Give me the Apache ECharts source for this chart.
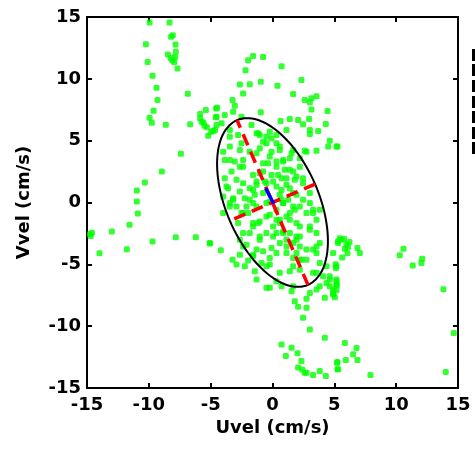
<!DOCTYPE html>
<html><head><meta charset="utf-8">
<script src="https://cdn.jsdelivr.net/npm/echarts@6/dist/echarts.min.js"></script>
<style>html,body{margin:0;padding:0;background:#fff}#c{width:475px;height:450px}</style>
</head><body><div id="c"></div><script>
// axis range and ticks
const axisMin = -15, axisMax = 15, tickStep = 5;
const xName = 'Uvel (cm/s)', yName = 'Vvel (cm/s)';

// variance ellipse parameters (cm/s, degrees)
const ellipseCenter = [0, 0];
const ellipseMajor = 7.25;
const ellipseMinor = 3.75;
const ellipseAngleDeg = 113.3;

// mean vector (blue line)
const meanVector = [[0.1, -0.1], [-0.55, 1.15]];

// scatter points, grouped by region
const nwTrack = [[-9.94,14.55],[-8.33,14.55],[-8.06,13.52],[-8.2,13.4],[-10.24,12.8],[-7.84,12.77],[-7.82,12.18],[-8.46,11.97],[-8.22,11.69],[-7.87,11.77],[-7.95,11.37],[-8.1,11.5],[-10.1,11.37],[-7.68,10.84],[-9.7,10.24],[-9.38,9.27],[-6.85,8.79],[-9.3,8.28],[-9.62,7.42],[-9.94,6.85],[-9.76,6.45],[-8.63,6.29],[-6.66,6.32],[-5.85,7.15],[-5.39,7.48],[-5.72,6.53],[-5.58,6.45],[-5.31,6.08],[-4.96,5.73],[-4.56,7.61],[-4.58,6.89],[-4.64,5.86],[-5.85,6.8],[-5.5,6.2],[-7.41,3.95],[-8.95,2.5],[-10.32,1.61],[-10.97,0.97],[-10.97,0.08]];
const westTrack = [[-10.89,-0.89],[-11.56,-1.8],[-14.75,-2.55],[-14.6,-2.45],[-14.7,-2.7],[-12.99,-2.34],[-13.99,-4.11],[-11.78,-3.79],[-9.7,-3.15],[-7.82,-2.82],[-6.2,-2.82],[-5.07,-3.31]];
const eastTrack = [[5.25,4.52],[5.58,-3.01],[5.3,-3.27],[5.98,-3.41],[6.22,-3.19],[5.85,-3.73],[6.87,-3.68],[7.06,-4.08],[6.06,-4.11],[5.63,-4.44],[5.44,-2.9],[5.79,-2.95],[6.1,-3.6],[10.59,-3.73],[10.29,-4.27],[11.34,-5.1],[12.1,-4.54],[12.04,-4.89],[5.12,-5.29],[5.1,-5.0],[5.17,-6.37],[5.2,-6.7],[5.17,-7.1],[5.04,-7.66],[13.82,-7.02],[14.66,-10.56],[5.85,-11.37],[6.79,-11.77],[6.52,-12.28],[5.25,-12.9],[5.93,-12.74],[6.87,-12.74],[5.25,-13.49],[7.92,-13.95],[14.01,-13.71]];
const southTrack = [[-5.07,-3.27],[-4.18,-3.87],[-3.23,-4.62],[-2.91,-5.02],[-2.24,-5.16],[-2.64,-4.22],[-1.97,-4.68],[-1.29,-6.23],[-1.43,-5.56],[-0.89,-4.89],[-0.22,-5.02],[-0.49,-6.9],[-0.22,-6.9],[0.32,-6.37],[0.73,-6.77],[1.4,-5.56],[1.54,-7.18],[1.8,-7.98],[2.07,-8.44],[2.75,-7.79],[2.75,-8.52],[3.02,-7.31],[3.56,-7.04],[4.23,-7.71],[4.9,-7.04],[5.17,-6.64],[4.63,-5.97],[5.17,-6.23],[4.37,-6.5],[2.47,-9.32],[3.02,-10.27],[4.23,-10.94],[0.73,-11.48],[1.54,-11.74],[1.08,-12.42],[2.02,-12.2],[2.34,-12.82],[2.07,-13.35],[2.61,-13.76],[3.28,-13.95],[3.82,-13.63],[4.31,-14.03],[5.22,-12.95],[5.3,-13.49],[2.75,-13.76],[2.4,-13.5]];
const northCloud = [[-1.57,11.85],[-0.76,11.77],[-1.97,11.5],[-2.18,10.7],[0.73,11.02],[-0.95,9.76],[-1.84,9.57],[-2.64,9.55],[0.4,9.44],[2.34,9.9],[-2.38,8.82],[1.67,8.77],[-3.23,8.28],[-3.05,7.82],[-3.18,7.34],[-4.48,7.66],[-3.86,7.07],[-4.53,6.94],[-4.12,6.4],[-4.8,5.78],[-4.53,6.27],[-3.45,5.86],[-5.2,5.4],[-2.51,6.94],[-0.95,7.29],[2.61,8.28],[3.15,8.42],[3.56,8.6],[3.02,8.1],[4.45,7.4],[3.15,7.53],[1.4,6.75],[0.65,6.59],[2.07,6.67],[2.96,6.75],[2.47,6.32],[4.31,6.35],[3.02,5.86],[3.69,5.78],[3.02,5.54],[4.63,5.0],[4.5,4.52],[5.17,4.52],[3.56,4.19],[2.61,4.19]];
const coreUpper = [[-1.7,6.27],[-3.45,5.32],[-2.78,5.46],[-1.29,5.6],[-1.03,5.46],[-0.49,5.32],[-0.76,4.92],[-0.08,5.19],[0.32,4.79],[0.59,4.25],[-0.08,4.11],[-1.03,4.39],[-1.84,4.11],[-2.51,4.79],[-3.45,4.52],[-3.99,4.11],[-3.86,3.44],[-3.05,3.31],[-2.38,3.44],[-2.64,2.9],[-3.31,2.5],[-3.86,1.97],[-2.38,1.56],[-1.57,2.23],[-0.76,2.5],[-0.36,3.18],[0.32,3.31],[0.86,3.31],[1.4,3.58],[1.54,3.98],[0.99,2.64],[1.67,2.5],[2.21,2.9],[2.47,1.97],[1.8,1.83],[1.13,1.97],[0.45,2.23],[0.05,1.69],[-0.62,1.69],[-1.29,1.43],[-1.84,1.16],[-2.64,0.89],[-3.59,1.16],[-3.99,0.48],[-3.18,0.35],[-2.24,0.35],[-1.43,0.62],[0.73,1.02],[1.4,1.16],[1.94,0.62],[1.26,0.22],[0.73,0.22],[2.75,4.11],[2.21,3.58],[-0.22,0.08],
[-1.16,5.6],[-0.22,5.73],[0.32,5.46],[1.13,5.86],[-0.49,4.79],[0.59,4.52],[1.67,4.25],[-1.29,3.98],[-0.22,3.71],[0.86,3.44],[-0.76,3.18],[0.32,2.9],[1.4,2.64],[-1.03,2.37],[-0.08,2.23],[0.73,1.97],[1.94,2.1],[-1.29,1.69],[-0.49,1.56],[0.32,1.29],[1.13,1.43],[2.47,1.56],[-1.57,1.02],[-0.76,0.76],[0.59,0.62],[1.67,0.76],[-1.84,0.22],[0.86,-0.05],[-1.29,-0.32],[0.32,-0.59],[1.4,-0.85],[-0.49,-1.13],[0.59,-1.4],[1.94,-1.66],[-2.38,-0.85],[-3.18,0.22],[-2.91,1.83],[-2.38,2.9],[-2.64,4.25],[-3.45,3.44],[-3.72,1.29],[2.47,0.22],[3.02,0.76],[2.21,-0.32],[3.28,-0.59]];
const coreLower = [[3.02,-1.94],[3.56,-2.47],[3.82,-3.27],[3.28,-3.81],[2.75,-4.62],[3.82,-0.59],[5.3,-3.14],[4.9,-4.08],[5.17,-5.16],[4.37,-5.16],[4.09,-5.97],[4.63,-6.77],[4.9,-7.44],
[-3.45,-0.32],[-2.91,-0.32],[-2.51,-0.85],[-1.97,-0.85],[-1.57,-1.66],[-1.03,-1.53],[-0.49,-2.47],[0.05,-1.94],[0.32,-1.4],[0.59,-3.27],[-0.08,-3.68],[-0.76,-3.95],[-1.57,-4.22],[-0.22,-4.48],[0.32,-4.08],[1.4,-2.47],[1.67,-3.27],[1.94,-2.74],[2.21,-3.55],[2.34,-4.62],[1.94,-4.08],[2.75,-0.85],[3.28,-0.85],[3.56,-1.4],[1.13,-1.13],[1.8,-0.59],[-2.1,-3.41],[-1.03,-2.74],[-2.38,-2.47],[-2.78,-1.66],[-3.99,-0.85],
[-3.45,-0.05],[-1.57,-0.05],[-0.49,-0.05],[0.86,-0.05],[1.67,-0.32],[3.02,-0.05],[-2.1,-0.32],[-0.22,-0.99],[-1.16,-1.66],[0.59,-1.66],[1.4,-1.4],[2.21,-1.94],[2.21,-2.74],[1.13,-3.01],[0.86,-2.34],[0.32,-2.47],[-1.84,-2.47],[-2.64,-3.01],[-1.29,-3.81],[1.13,-4.08],[1.67,-4.48],[3.56,-4.08],[3.82,-4.89],[3.28,-5.69],[2.21,-5.43],
[0.86,-2.47],[0.05,-2.74],[1.94,-3.01],[1.13,-3.55],[2.75,-3.81],[-1.03,-3.01],[-1.57,-1.94],[3.02,-2.2],[3.56,-3.55],[2.21,-4.62],[1.67,-5.16],[0.59,-5.69],[-0.49,-5.16],[-1.57,-4.35],[-2.38,-3.55],[3.56,-5.69],[3.82,-6.77],[4.63,-6.23],[4.9,-7.31],[1.67,-6.77]];

// clipped legend rows at the right edge (layout only)
const legendRowsY = [55, 70, 86, 102, 117, 133, 148];

const allPoints = [].concat(nwTrack, westTrack, eastTrack, southTrack, northCloud, coreUpper, coreLower);

const th = ellipseAngleDeg * Math.PI / 180;
const ux = Math.cos(th), uy = Math.sin(th);
const vx = -uy, vy = ux;
const ellipsePts = [];
for (let d = 0; d <= 360; d += 3) {
  const t = d * Math.PI / 180;
  ellipsePts.push([
    ellipseCenter[0] + ellipseMajor * Math.cos(t) * ux + ellipseMinor * Math.sin(t) * vx,
    ellipseCenter[1] + ellipseMajor * Math.cos(t) * uy + ellipseMinor * Math.sin(t) * vy
  ]);
}
const majorAxis = [[ellipseCenter[0] - ellipseMajor * ux, ellipseCenter[1] - ellipseMajor * uy],
                   [ellipseCenter[0] + ellipseMajor * ux, ellipseCenter[1] + ellipseMajor * uy]];
const minorAxis = [[ellipseCenter[0] - ellipseMinor * vx, ellipseCenter[1] - ellipseMinor * vy],
                   [ellipseCenter[0] + ellipseMinor * vx, ellipseCenter[1] + ellipseMinor * vy]];

const font = 'DejaVu Sans';
const txt = {color: '#000', fontFamily: font, fontWeight: 'bold', fontSize: 18};
const axLine = {onZero: false, lineStyle: {color: '#000', width: 2}};
const axTick = {inside: true, length: 5, lineStyle: {color: '#000', width: 2}};
function mkAxis(pos, main, name, gap) {
  return {
    type: 'value', position: pos, min: axisMin, max: axisMax, interval: tickStep,
    axisLine: axLine, axisTick: axTick, splitLine: {show: false},
    axisLabel: main ? Object.assign({margin: pos === 'bottom' ? 8 : 6}, txt) : {show: false},
    name: main ? name : '', nameLocation: 'middle', nameGap: gap,
    nameTextStyle: txt
  };
}

const chart = echarts.init(document.getElementById('c'), null, {renderer: 'canvas'});
chart.setOption({
  animation: false,
  backgroundColor: '#fff',
  grid: {left: 87, right: 17, top: 17, bottom: 62},
  xAxis: [mkAxis('bottom', true, xName, 30), mkAxis('top', false)],
  yAxis: [mkAxis('left', true, yName, 54), mkAxis('right', false)],
  graphic: legendRowsY.map(y => ({type: 'rect', left: 472, top: y - 6, shape: {width: 3, height: 12}, style: {fill: '#000'}})),
  series: [
    {type: 'scatter', data: allPoints, symbol: 'roundRect', symbolSize: 6, itemStyle: {color: '#00ff00'}, z: 2, silent: true},
    {type: 'line', data: ellipsePts, showSymbol: false, symbol: 'none', lineStyle: {color: '#000', width: 2}, z: 3, silent: true},
    {type: 'line', data: majorAxis, showSymbol: false, symbol: 'none', lineStyle: {color: '#ff0000', width: 3.5, type: [12, 7]}, z: 4, silent: true},
    {type: 'line', data: minorAxis, showSymbol: false, symbol: 'none', lineStyle: {color: '#ff0000', width: 3.5, type: [12, 7]}, z: 4, silent: true},
    {type: 'line', data: meanVector, showSymbol: false, symbol: 'none', lineStyle: {color: '#0000ff', width: 3.5}, z: 5, silent: true}
  ]
});
</script></body></html>
